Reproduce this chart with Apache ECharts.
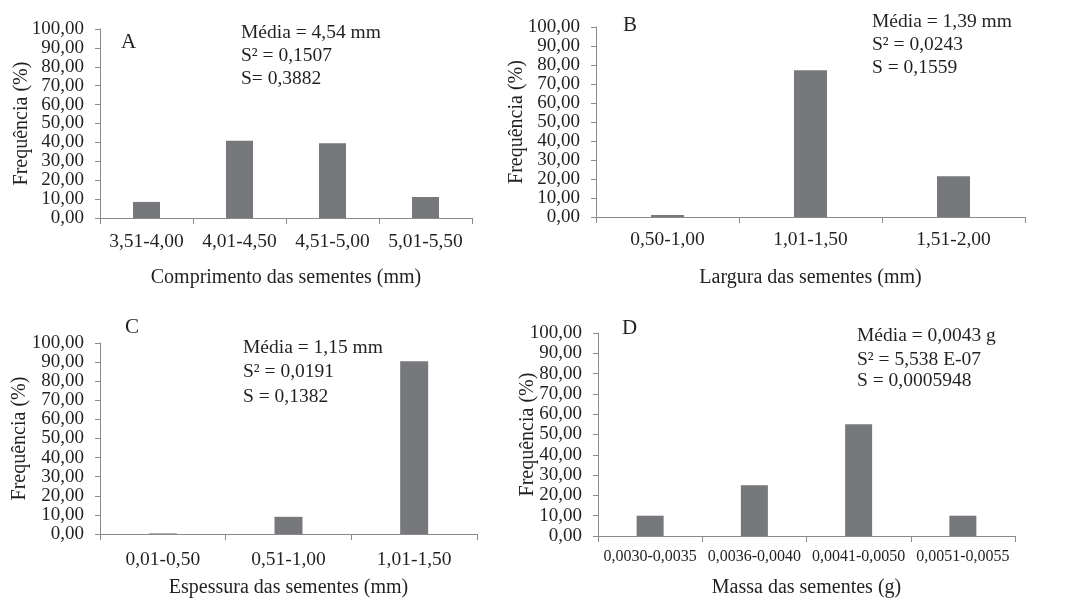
<!DOCTYPE html>
<html><head><meta charset="utf-8">
<script src="https://cdn.jsdelivr.net/npm/echarts@6/dist/echarts.min.js"></script>
<style>html,body{margin:0;padding:0;background:#fff}#c{width:1084px;height:599px}</style>
</head><body><div id="c"></div>
<script>
const catsA = ['3,51-4,00','4,01-4,50','4,51-5,00','5,01-5,50'];
const valsA = [8.5, 40.9, 39.5, 11.1];
const catsB = ['0,50-1,00','1,01-1,50','1,51-2,00'];
const valsB = [1.0, 77.3, 21.5];
const catsC = ['0,01-0,50','0,51-1,00','1,01-1,50'];
const valsC = [0.3, 9.0, 90.5];
const catsD = ['0,0030-0,0035','0,0036-0,0040','0,0041-0,0050','0,0051-0,0055'];
const valsD = [10.0, 25.0, 55.0, 10.0];
const xNames = ['Comprimento das sementes (mm)','Largura das sementes (mm)','Espessura das sementes (mm)','Massa das sementes (g)'];
const yName = 'Frequência (%)';
const letters = ['A','B','C','D'];
const statsA = ['Média = 4,54 mm','S² = 0,1507','S= 0,3882'];
const statsB = ['Média = 1,39 mm','S² = 0,0243','S = 0,1559'];
const statsC = ['Média = 1,15 mm','S² = 0,0191','S = 0,1382'];
const statsD = ['Média = 0,0043 g','S² = 5,538 E-07','S = 0,0005948'];

const FONT = '"Liberation Serif","DejaVu Serif",serif';
const TXT = '#231f20';
const AX = '#8a8a8a';
const BAR = '#77787b';

const grids = [
  {left:100, top:29, width:372, height:189},
  {left:596, top:27, width:429, height:190},
  {left:100, top:343, width:377, height:196},
  {left:598, top:333, width:417, height:208}
];
const cats = [catsA, catsB, catsC, catsD];
const vals = [valsA, valsB, valsC, valsD];
const xGaps = [50, 51, 44, 42];
const xLabelSize = [19.5, 19.5, 19.5, 16];
const xLabelMargin = [14, 13, 16, 13];
const barW = [27, 33, 28, 27];
const yGaps = [68, 69, 70, 60];

const option = {
  animation:false,
  backgroundColor:'#fff',
  grid: grids.map(g => Object.assign({containLabel:false}, g)),
  xAxis: cats.map((c,i)=>({
    type:'category', gridIndex:i, data:c,
    name:xNames[i], nameLocation:'middle', nameGap:xGaps[i], nameMoveOverlap:false,
    nameTextStyle:{fontFamily:FONT, fontSize:20, color:TXT},
    axisLine:{lineStyle:{color:AX, width:1}},
    axisTick:{show:true, alignWithLabel:false, length:6, lineStyle:{color:AX}},
    axisLabel:{interval:0, fontFamily:FONT, fontSize:xLabelSize[i], color:TXT, margin:xLabelMargin[i]},
    splitLine:{show:false}
  })),
  yAxis: cats.map((c,i)=>({
    type:'value', gridIndex:i, min:0, max:100, interval:10,
    name:yName, nameLocation:'middle', nameGap:yGaps[i], nameRotate:90, nameMoveOverlap:false,
    nameTextStyle:{fontFamily:FONT, fontSize:20, color:TXT},
    axisLine:{show:true, lineStyle:{color:AX, width:1}},
    axisTick:{show:true, length:5, lineStyle:{color:AX}},
    axisLabel:{fontFamily:FONT, fontSize:19, color:TXT, margin:16,
      showMinLabel:true, showMaxLabel:true, hideOverlap:false,
      formatter:v=>v.toFixed(2).replace('.',',')},
    splitLine:{show:false}
  })),
  series: vals.map((v,i)=>({
    type:'bar', xAxisIndex:i, yAxisIndex:i, data:v, barWidth:barW[i],
    itemStyle:{color:BAR}
  })),
  graphic: []
};

const letterPos = [[121,42],[623,25],[125,327],[622,328]];
letters.forEach((l,i)=>{
  option.graphic.push({type:'text', x:letterPos[i][0], y:letterPos[i][1],
    style:{text:l, font:'21px '+FONT, fill:TXT, verticalAlign:'middle'}});
});
const stats = [statsA, statsB, statsC, statsD];
const statPos = [
  [241,[33,56,79]],
  [872,[22,45,68]],
  [243,[348,372,397]],
  [857,[336,360,381]]
];
stats.forEach((s,i)=>{
  s.forEach((t,j)=>{
    option.graphic.push({type:'text', x:statPos[i][0], y:statPos[i][1][j],
      style:{text:t, font:'19.5px '+FONT, fill:TXT, verticalAlign:'middle'}});
  });
});

const chart = echarts.init(document.getElementById('c'), null, {renderer:'canvas'});
chart.setOption(option);
</script>
</body></html>
